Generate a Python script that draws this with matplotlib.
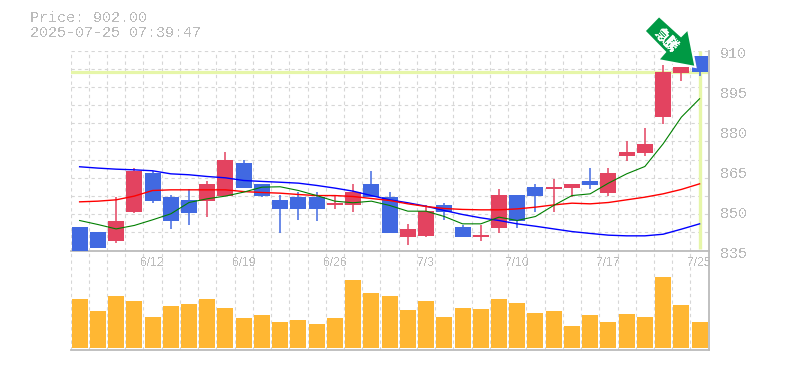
import numpy as np
import matplotlib
matplotlib.use('Agg')
import matplotlib.pyplot as plt
from matplotlib.patches import Polygon

plt.rcParams['text.antialiased'] = False
plt.rcParams['text.hinting'] = 'native'

# OHLC
opens = [844.0, 842.1, 838.75, 849.6, 864.25, 855.25, 854.0, 853.75, 855.6, 868.0, 860.1, 854.1,
         855.25, 855.25, 851.9, 851.9, 860.1, 855.25, 839.9, 840.6, 852.25, 844.0, 839.9, 843.6,
         856.0, 859.0, 857.9, 858.6, 861.25, 856.75, 870.6, 871.75, 884.9, 901.75, 908.1]
closes = [835.0, 835.9, 846.25, 865.0, 853.75, 845.9, 848.9, 860.1, 869.1, 858.6, 855.6, 850.75,
          850.75, 850.75, 853.0, 857.1, 854.9, 841.75, 843.25, 850.0, 849.6, 839.9, 841.0, 856.0,
          845.9, 855.6, 859.0, 860.1, 859.75, 864.25, 872.1, 875.1, 902.1, 904.0, 902.0]
highs = [844.0, 842.1, 855.0, 866.1, 865.0, 856.0, 858.25, 861.25, 872.1, 869.1, 860.1, 856.0,
         857.1, 857.1, 856.0, 860.1, 865.0, 857.1, 845.1, 852.25, 853.0, 844.75, 844.75, 858.25,
         856.0, 860.1, 862.0, 860.1, 866.1, 866.1, 876.25, 881.1, 904.6, 904.0, 908.1]
lows = [835.0, 835.9, 837.75, 848.9, 852.75, 842.9, 844.75, 847.75, 855.6, 858.6, 854.9, 841.75,
        846.6, 845.9, 850.75, 849.6, 854.9, 841.75, 836.9, 839.9, 846.6, 839.9, 838.75, 841.75,
        843.6, 849.6, 849.6, 854.9, 857.9, 855.6, 868.75, 870.6, 882.6, 898.75, 900.6]

ma_short = [846.25, 844.75, 843.1, 844.4, 846.5, 848.75, 853.0, 854.4, 855.4, 856.9, 858.75, 858.9,
            857.5, 855.6, 853.5, 852.9, 853.5, 851.9, 849.75, 849.75, 847.75, 845.0, 845.0, 847.5,
            846.25, 847.75, 851.9, 855.6, 856.25, 860.25, 863.75, 866.5, 875.0, 885.0, 891.9]
ma_mid = [853.25, 853.5, 854.0, 855.4, 857.5, 857.75, 857.75, 857.75, 857.75, 857.1, 856.75, 856.5,
          856.0, 855.6, 855.6, 855.25, 854.5, 853.75, 852.5, 851.5, 850.75, 850.4, 850.25, 850.25,
          850.6, 851.25, 852.1, 852.75, 852.5, 853.0, 854.0, 855.0, 856.25, 857.9, 860.0]
ma_long = [866.4, 865.9, 865.5, 865.25, 864.9, 863.75, 863.4, 862.75, 862.25, 861.25, 860.9, 860.6,
           860.25, 859.4, 858.4, 857.25, 855.6, 854.0, 852.9, 851.6, 850.0, 848.5, 847.25, 846.25,
           845.0, 844.1, 843.1, 842.1, 841.4, 840.75, 840.5, 840.5, 841.1, 843.0, 845.0]

volumes = [147, 111, 156, 141, 93, 126, 132, 147, 120, 90, 99, 78, 84, 72, 90, 204, 165, 156,
           114, 141, 93, 120, 117, 147, 135, 105, 111, 66, 99, 78, 102, 93, 213, 129, 78]

price_ticks = [835, 850, 865, 880, 895, 910]
date_ticks = ['6/12', '6/19', '6/26', '7/3', '7/10', '7/17', '7/25']
date_idx = [4, 9, 14, 19, 24, 29, 34]
last_price = 902.0

W, H = 785, 370
RED = '#e34360'
BLUE = '#4169e1'
GREY = '#bbbbbb'
HILITE = '#e6f6a8'
MONO = 'Liberation Mono'

def box(x0, y0, x1, y1):
    # pixel box, y from the top
    return [x0 / W, 1 - y1 / H, (x1 - x0) / W, (y1 - y0) / H]

fig = plt.figure(figsize=(W / 100, H / 100), dpi=100)
ax = fig.add_axes(box(70.5, 50.5, 708.7, 250.5))
vax = fig.add_axes(box(70.5, 250.5, 708.7, 350))

x = np.arange(len(opens))
grid_x = np.arange(len(opens) + 1) - 0.5
grid_y = np.linspace(835, 910, 12)
dash = (0, (3, 3))

for a in (ax, vax):
    a.set_xlim(-0.5, len(opens) - 0.5)
    a.set_xticks(grid_x)
    a.tick_params(length=0, labelbottom=False, labelleft=False)
    a.grid(axis='x', color='#d6d6d6', lw=0.8, linestyle=dash)
    a.set_axisbelow(True)
    for s in a.spines.values():
        s.set_visible(False)
    a.patch.set_alpha(0)
    for side in ('bottom', 'right'):
        a.spines[side].set_visible(True)
        a.spines[side].set_color(GREY)
        a.spines[side].set_linewidth(1.3)

ax.set_ylim(835, 910)
ax.set_yticks(grid_y)
ax.grid(axis='y', color='#d6d6d6', lw=0.8, linestyle=dash)

# highlight of the last price and the last day
ax.axhline(last_price, color=HILITE, lw=2.3, zorder=1.5)
ax.plot([x[-1], x[-1]], [835.5, 910], color=HILITE, lw=2.4, zorder=1.5, solid_capstyle='butt')

# candles
colors = [RED if c >= o else BLUE for o, c in zip(opens, closes)]
ax.vlines(x, lows, highs, colors=colors, lw=1.1, zorder=3)
ax.bar(x, np.abs(np.array(closes) - np.array(opens)), bottom=np.minimum(opens, closes),
       width=16 / 18.235, color=colors, zorder=3, linewidth=0)

# moving averages
ax.plot(x, ma_long, color='#0000ff', lw=1.0, zorder=4)
ax.plot(x, ma_mid, color='#ff0000', lw=1.0, zorder=4)
ax.plot(x, ma_short, color='#008000', lw=0.8, zorder=4)

# volume
vax.set_ylim(-6, 292)
vax.bar(x, volumes, width=16 / 18.235, color='#ffb733', zorder=3, linewidth=0)

# date labels, just under the price panel
for i, d in zip(date_idx, date_ticks):
    ax.annotate(d, (i, 835), xytext=(0, -12 * 0.72), textcoords='offset points', ha='center', va='center',
                color=GREY, fontsize=8.7, family='Liberation Sans', annotation_clip=False)

# price labels sit a little below their level
for p in price_ticks:
    ax.annotate(str(p), (1, p), xycoords=('axes fraction', 'data'), xytext=(11 * 0.72, -4 * 0.72),
                textcoords='offset points', ha='left', va='center', color=GREY, fontsize=10.8,
                family=MONO, annotation_clip=False)

fig.text(30 / W, 1 - 18 / H, 'Price: 902.00', color=GREY, fontsize=10.8, family=MONO, va='center')
fig.text(30 / W, 1 - 33 / H, '2025-07-25 07:39:47', color=GREY, fontsize=10.8, family=MONO, va='center')

# green arrow badge
arrow = np.array([(659, 16), (644.5, 31), (665, 52), (658, 60), (695.5, 67), (688, 29), (681, 36)])
arrow[:, 0] /= W
arrow[:, 1] = 1 - arrow[:, 1] / H
fig.add_artist(Polygon(arrow, closed=True, transform=fig.transFigure, facecolor='#009944',
                       edgecolor='white', lw=1.5, zorder=6))
fig.text(667 / W, 1 - 40 / H, '急騰', color='white', fontsize=9.5, rotation=-45, rotation_mode='anchor',
         ha='center', va='center', family=['Noto Sans CJK JP', 'DejaVu Sans'], fontweight='bold', zorder=7)

fig.savefig('out.png', dpi=100)
